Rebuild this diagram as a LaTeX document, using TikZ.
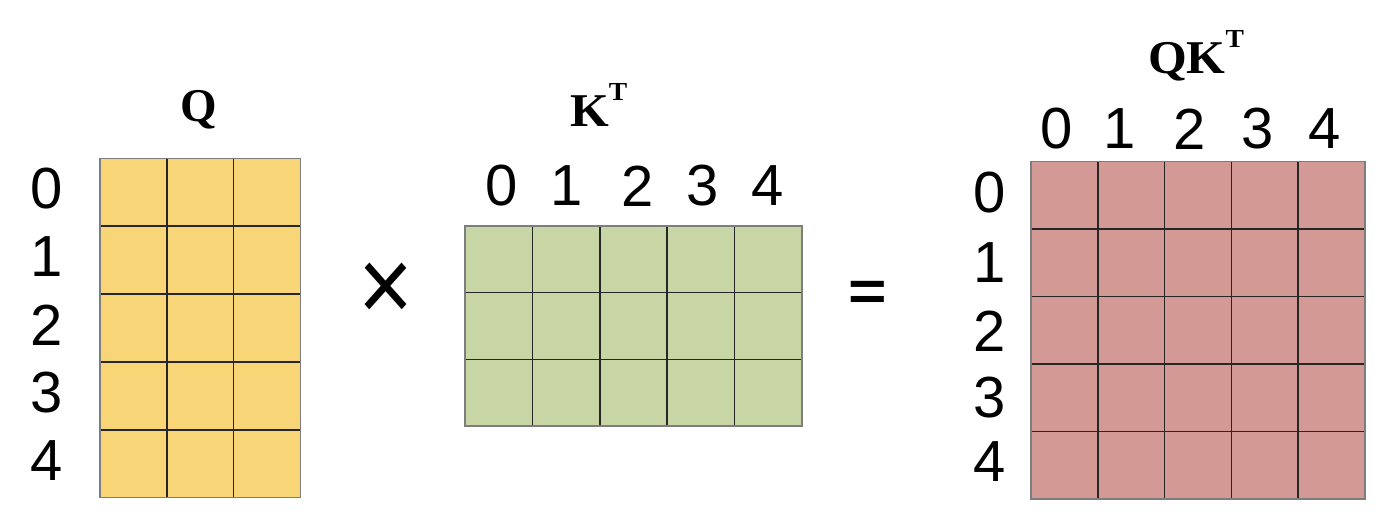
\documentclass[tikz,border=0pt]{standalone}
\usepackage{fontspec}
\setmainfont{Liberation Serif}
\newfontfamily\digitfont{Liberation Sans}
\definecolor{qfill}{RGB}{248,214,120}
\definecolor{kfill}{RGB}{200,214,165}
\definecolor{pfill}{RGB}{211,153,149}
\definecolor{outerline}{RGB}{125,125,125}
\newcommand\drawgridmat[7]{%
  % #1 x0, #2 y0, #3 x1, #4 y1, #5 cols, #6 rows, #7 fill
  \fill[#7] (#1,#2) rectangle (#3,#4);
  \foreach \i in {1,...,\numexpr#5-1\relax}{
    \draw[innerline] ({#1+(#3-#1)*\i/#5},#2) -- ({#1+(#3-#1)*\i/#5},#4);
  }
  \foreach \j in {1,...,\numexpr#6-1\relax}{
    \draw[innerline] (#1,{#2+(#4-#2)*\j/#6}) -- (#3,{#2+(#4-#2)*\j/#6});
  }
  \draw[outerbox] (#1,#2) rectangle (#3,#4);
}
\newcommand\supT{{\fontsize{26}{26}\selectfont\raisebox{26pt}{T}}}
\begin{document}
\begin{tikzpicture}[x=1pt,y=-1pt,
  innerline/.style={draw=black!85,line width=1.5pt},
  outerbox/.style={draw=outerline,line width=1.4pt},
  idx/.style={font=\digitfont\fontsize{58}{58}\selectfont,inner sep=0pt,anchor=center},
  title/.style={font=\bfseries\fontsize{47}{47}\selectfont,inner sep=0pt},
  opsym/.style={font=\digitfont,inner sep=0pt,anchor=center}]
\useasboundingbox (0,0) rectangle (1386,532);
% matrices
\drawgridmat{100}{158.3}{300.5}{497.7}{3}{5}{qfill}
\drawgridmat{465}{226}{802}{426}{5}{3}{kfill}
\drawgridmat{1031}{161.7}{1365}{499}{5}{5}{pfill}
% titles
\node[title,anchor=base] (tq) at (199,122) {Q};
\node[title,anchor=base west] (tk) at (570,127) {\scalebox{1.06}[1]{K\supT}};
\node[title,anchor=base west] (tp) at (1148,74) {\scalebox{1.06}[1]{QK\supT}};
% Q row labels
\node[idx] (qr0) at (46.7,189) {0};
\node[idx] (qr1) at (46.7,257) {1};
\node[idx] (qr2) at (46.7,325) {2};
\node[idx] (qr3) at (46.7,393) {3};
\node[idx] (qr4) at (46.7,461) {4};
% K column labels
\node[idx] (kc0) at (501.7,186) {0};
\node[idx] (kc1) at (566.7,186) {1};
\node[idx] (kc2) at (638,186) {2};
\node[idx] (kc3) at (703,186) {3};
\node[idx] (kc4) at (768,186) {4};
% QK^T column labels
\node[idx] (pc0) at (1056.7,129) {0};
\node[idx] (pc1) at (1120,129) {1};
\node[idx] (pc2) at (1190,129) {2};
\node[idx] (pc3) at (1258,129) {3};
\node[idx] (pc4) at (1325,129) {4};
% QK^T row labels
\node[idx] (pr0) at (990,192.5) {0};
\node[idx] (pr1) at (990,263) {1};
\node[idx] (pr2) at (990,331) {2};
\node[idx] (pr3) at (990,398) {3};
\node[idx] (pr4) at (990,462) {4};
% operators
\node[opsym] (times) at (386,292) {\fontsize{94}{94}\selectfont\scalebox{1}[1.12]{×}};
\node[opsym] (eq) at (868,296) {\bfseries\fontsize{66}{66}\selectfont\scalebox{1}[0.85]{=}};
\end{tikzpicture}
\end{document}
